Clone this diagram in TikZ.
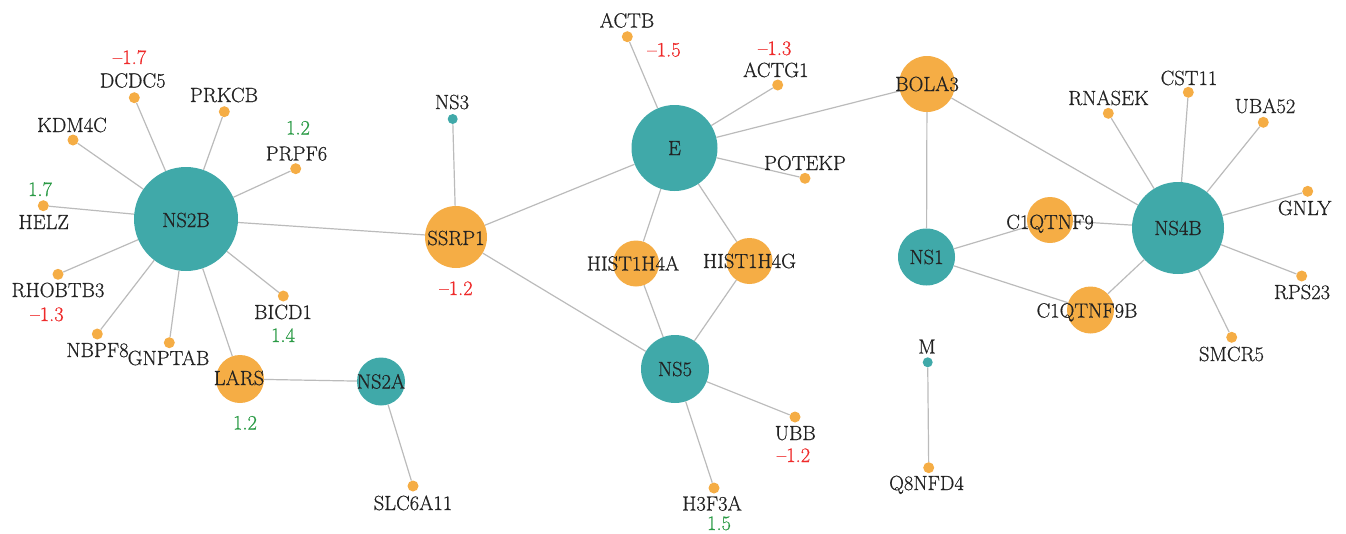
\documentclass[tikz,border=0pt]{standalone}
\usepackage{fontspec}
\newfontfamily\lblfont[FakeBold=0.6,Ligatures=TeX]{Latin Modern Roman}
\usetikzlibrary{backgrounds}
\definecolor{teal1}{HTML}{40A9A9}
\definecolor{orng}{HTML}{F5AD45}
\definecolor{txtc}{HTML}{222222}
\definecolor{redv}{HTML}{EE2A2A}
\definecolor{grnv}{HTML}{2A9A45}
\definecolor{edgec}{HTML}{BBBBBB}
\tikzset{
 hub/.style={circle, fill=teal1, inner sep=0pt, minimum size=#1},
 gene/.style={circle, fill=orng, inner sep=0pt, minimum size=#1},
 dotg/.style={circle, fill=orng, inner sep=0pt, minimum size=11pt},
 dott/.style={circle, fill=teal1, inner sep=0pt, minimum size=10pt},
 txt/.style={inner sep=0pt, text=txtc, font=\lblfont\fontsize{20.5}{24}\selectfont, text height=14pt, text depth=0pt},
 negv/.style={txt, text=redv},
 posv/.style={txt, text=grnv},
 link/.style={draw=edgec, line width=1.2pt}
}
\begin{document}
\begin{tikzpicture}[x=1pt,y=-1pt]
\useasboundingbox (0,0) rectangle (1346,533);
% hubs and large genes
\node[hub=104pt] (ns2b) at (186,219) {};
\node[gene=62pt] (ssrp1) at (456,237) {};
\node[hub=86pt] (e) at (674.5,148) {};
\node[hub=68pt] (ns5) at (675,369) {};
\node[gene=46pt] (h4a) at (636,263.5) {};
\node[gene=46pt] (h4g) at (749.5,261) {};
\node[gene=56pt] (bola3) at (927,84) {};
\node[hub=57pt] (ns1) at (926.5,257) {};
\node[gene=46pt] (c1q) at (1050,220) {};
\node[gene=47pt] (c1qb) at (1090.5,310) {};
\node[hub=92pt] (ns4b) at (1178,228) {};
\node[gene=48pt] (lars) at (240,379) {};
\node[hub=48pt] (ns2a) at (381,381.5) {};
% small dots
\node[dotg] (dcdc5) at (134.3,97.7) {};
\node[dotg] (prkcb) at (224.3,111.7) {};
\node[dotg] (kdm4c) at (73,140) {};
\node[dotg] (prpf6) at (295.7,168.7) {};
\node[dotg] (helz) at (43.3,205.7) {};
\node[dotg] (rhobtb3) at (58,274.3) {};
\node[dotg] (nbpf8) at (97.3,334) {};
\node[dotg] (gnptab) at (169.3,342.7) {};
\node[dotg] (bicd1) at (283.3,296) {};
\node[dotg] (slc) at (413,486) {};
\node[dott] (ns3) at (452.7,119) {};
\node[dotg] (actb) at (627.3,36.7) {};
\node[dotg] (actg1) at (777.7,85) {};
\node[dotg] (potekp) at (805,178.3) {};
\node[dotg] (ubb) at (795,417) {};
\node[dotg] (h3f3a) at (714,488) {};
\node[dotg] (rnasek) at (1108.3,113.3) {};
\node[dotg] (cst11) at (1188.3,92.3) {};
\node[dotg] (uba52) at (1263.3,122.3) {};
\node[dotg] (gnly) at (1307.7,191.3) {};
\node[dotg] (rps23) at (1301.7,276) {};
\node[dotg] (smcr5) at (1231.7,337.3) {};
\node[dott] (m) at (927.7,362.3) {};
\node[dotg] (q8) at (928.7,467.7) {};
% edges
\begin{scope}[on background layer]
\foreach \t in {dcdc5,prkcb,kdm4c,prpf6,helz,rhobtb3,nbpf8,gnptab,bicd1,lars,ssrp1}
  \draw[link] (ns2b) -- (\t);
\draw[link] (lars) -- (ns2a);
\draw[link] (ns2a) -- (slc);
\draw[link] (ns3) -- (ssrp1);
\draw[link] (ssrp1) -- (e);
\draw[link] (ssrp1) -- (ns5);
\foreach \t in {actb,actg1,potekp,bola3,h4a,h4g}
  \draw[link] (e) -- (\t);
\foreach \t in {h4a,h4g,ubb,h3f3a}
  \draw[link] (ns5) -- (\t);
\draw[link] (bola3) -- (ns1);
\draw[link] (bola3) -- (ns4b);
\draw[link] (ns1) -- (c1q);
\draw[link] (ns1) -- (c1qb);
\draw[link] (c1q) -- (ns4b);
\draw[link] (c1qb) -- (ns4b);
\foreach \t in {rnasek,cst11,uba52,gnly,rps23,smcr5}
  \draw[link] (ns4b) -- (\t);
\draw[link] (m) -- (q8);
\end{scope}
% labels
\node[txt] (l-ns2b) at (186,220) {NS2B};
\node[txt] (l-ssrp1) at (456,238) {SSRP1};
\node[negv] (v-ssrp1) at (456,288) {–1.2};
\node[txt] (l-e) at (674.5,148) {E};
\node[txt] (l-ns5) at (675,369) {NS5};
\node[txt] (l-h4a) at (633,263.5) {HIST1H4A};
\node[txt] (l-h4g) at (749.5,261) {HIST1H4G};
\node[txt] (l-bola3) at (927,84) {BOLA3};
\node[txt] (l-ns1) at (926.5,257) {NS1};
\node[txt] (l-c1q) at (1050,222) {C1QTNF9};
\node[txt] (l-c1qb) at (1087,310.5) {C1QTNF9B};
\node[txt] (l-ns4b) at (1178,228) {NS4B};
\node[txt] (l-lars) at (239,378) {LARS};
\node[posv] (v-lars) at (245,422.5) {1.2};
\node[txt] (l-ns2a) at (381,381.5) {NS2A};
\node[txt] (l-dcdc5) at (132.7,80.5) {DCDC5};
\node[negv] (v-dcdc5) at (129.5,57) {–1.7};
\node[txt] (l-prkcb) at (224,95) {PRKCB};
\node[txt] (l-kdm4c) at (72,125) {KDM4C};
\node[posv] (v-prpf6) at (298,127.5) {1.2};
\node[txt] (l-prpf6) at (296.5,153.5) {PRPF6};
\node[posv] (v-helz) at (40,189) {1.7};
\node[txt] (l-helz) at (43.7,222) {HELZ};
\node[txt] (l-rhobtb3) at (58,290) {RHOBTB3};
\node[negv] (v-rhobtb3) at (47,314) {–1.3};
\node[txt] (l-nbpf8) at (97.5,350) {NBPF8};
\node[txt] (l-gnptab) at (168.5,358) {GNPTAB};
\node[txt] (l-bicd1) at (283,312) {BICD1};
\node[posv] (v-bicd1) at (283,335) {1.4};
\node[txt] (l-slc) at (413,503) {SLC6A11};
\node[txt] (l-ns3) at (452,102) {NS3};
\node[txt] (l-actb) at (627,20.5) {ACTB};
\node[negv] (v-actb) at (664,49.5) {–1.5};
\node[negv] (v-actg1) at (774.7,48) {–1.3};
\node[txt] (l-actg1) at (775.8,70) {ACTG1};
\node[txt] (l-potekp) at (805,163) {POTEKP};
\node[txt] (l-ubb) at (795.3,433) {UBB};
\node[negv] (v-ubb) at (793.5,455) {–1.2};
\node[txt] (l-h3f3a) at (712,503.5) {H3F3A};
\node[posv] (v-h3f3a) at (719,523) {1.5};
\node[txt] (l-rnasek) at (1108.5,98) {RNASEK};
\node[txt] (l-cst11) at (1189,78) {CST11};
\node[txt] (l-uba52) at (1265,106) {UBA52};
\node[txt] (l-gnly) at (1304.7,208) {GNLY};
\node[txt] (l-rps23) at (1302,292) {RPS23};
\node[txt] (l-smcr5) at (1231.5,354) {SMCR5};
\node[txt] (l-m) at (927,346.5) {M};
\node[txt] (l-q8) at (926.5,483) {Q8NFD4};
\end{tikzpicture}
\end{document}
